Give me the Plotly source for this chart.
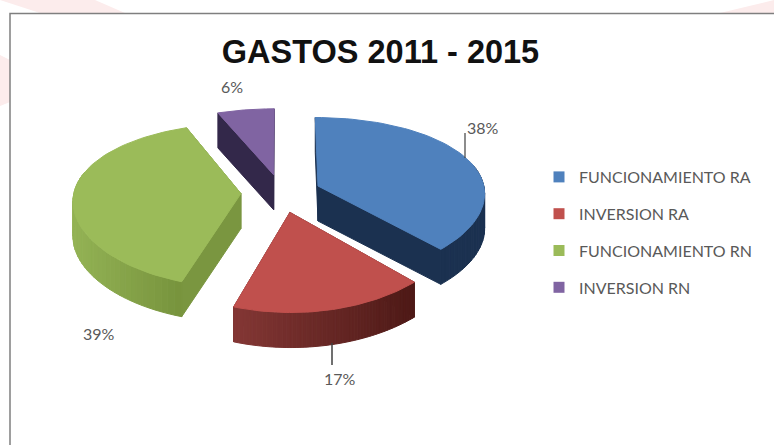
import numpy as np
import plotly.graph_objects as go

CATEGORIES = ["FUNCIONAMIENTO RA", "INVERSION RA", "FUNCIONAMIENTO RN", "INVERSION RN"]
VALUES = [38, 17, 39, 6]
TOP_COLORS = ["#4f81bd", "#c0504d", "#9bbb59", "#8064a2"]
RADIAL_COLORS = ["#1b3150", "#5a1f1d", "#7a9640", "#33284a"]
ARC_START = ["#1b3150", "#4e1a17", "#76923c", "#33284a"]
ARC_END = ["#1b3150", "#843735", "#94b355", "#33284a"]
TITLE = "GASTOS 2011 - 2015"

W, H = 774, 445
CX, CY, RX = 281, 193, 167
A, K, KX = 80, 0.141, 0.08
EXPLODE = 0.24
DEPTH = 35
LABEL = "#595959"


def project(u, v, dz=0.0):
    return CX + RX * u / (1 + KX * v), CY - A * v / (1 + K * v) + dz


def hex2rgb(c):
    return np.array([int(c[i:i + 2], 16) for i in (1, 3, 5)], float)


def mix(c1, c2, t):
    r = hex2rgb(c1) * (1 - t) + hex2rgb(c2) * t
    return "rgb(%d,%d,%d)" % tuple(r)


def poly(xs, ys, color):
    return go.Scatter(x=list(xs), y=list(ys), mode="lines", fill="toself", fillcolor=color,
                      line=dict(color=color, width=1), hoverinfo="skip", showlegend=False)


total = sum(VALUES)
cum = np.cumsum([0] + VALUES) / total * 2 * np.pi
geom = []
for i in range(len(VALUES)):
    t0, t1 = cum[i], cum[i + 1]
    mid = (t0 + t1) / 2
    ou, ov = EXPLODE * np.sin(mid), EXPLODE * np.cos(mid)
    th = np.linspace(t0, t1, 60)
    geom.append((th, ou, ov))

traces = []
for i in [3, 2, 0, 1]:
    th, ou, ov = geom[i]
    us = ou + np.sin(th)
    vs = ov + np.cos(th)
    ax, ay = project(ou, ov)
    for k in (0, -1):
        ex, ey = project(us[k], vs[k])
        traces.append(poly([ax, ex, ex, ax, ax], [ay, ey, ey + DEPTH, ay + DEPTH, ay], RADIAL_COLORS[i]))
    X, Y = project(us, vs)
    xmin, xmax = X.min(), X.max()
    for j in range(len(th) - 1):
        e = j + 1
        if np.cos(th[j]) > 0.25 and np.cos(th[e]) > 0.25:
            continue
        t = ((X[j] + X[e]) / 2 - xmin) / max(xmax - xmin, 1)
        if i in (1, 2):
            t = 1 - t
        c = mix(ARC_START[i], ARC_END[i], t)
        xs = [X[j], X[e], X[e], X[j], X[j]]
        ys = [Y[j], Y[e], Y[e] + DEPTH, Y[j] + DEPTH, Y[j]]
        traces.append(poly(xs, ys, c))
    traces.append(poly([ax] + list(X) + [ax], [ay] + list(Y) + [ay], TOP_COLORS[i]))

for name, color in zip(CATEGORIES, TOP_COLORS):
    traces.append(go.Scatter(x=[-50], y=[-50], mode="markers", name=name, legendgroup=name,
                             marker=dict(symbol="square", size=11, color=color), hoverinfo="skip"))

fig = go.Figure(traces)

pink = "#fcecec"
shapes = [
    dict(type="path", path="M0,0 L95,0 L125,13 L40,13 Z", fillcolor=pink, line_width=0, layer="below"),
    dict(type="path", path="M0,55 L10,60 L10,102 L0,106 Z", fillcolor=pink, line_width=0, layer="below"),
    dict(type="path", path="M720,13 L774,0 L774,13 Z", fillcolor=pink, line_width=0, layer="below"),
    dict(type="rect", x0=10, y0=13.5, x1=800, y1=470, fillcolor="white",
         line=dict(color="#7f7f7f", width=1.5), layer="below"),
    dict(type="line", x0=465, y0=158, x1=465, y1=133, line=dict(color="#404040", width=1.2)),
    dict(type="line", x0=332, y0=343, x1=332, y1=365, line=dict(color="#404040", width=1.5)),
]

label_pos = [(483, 127), (340, 378), (99, 333), (232, 86)]
annotations = [
    dict(x=x, y=y, text=f"{v}%", showarrow=False, xanchor="center", yanchor="middle",
         font=dict(family="Lato", size=16, color=LABEL))
    for (x, y), v in zip(label_pos, VALUES)
]

fig.update_layout(
    width=W, height=H, margin=dict(l=0, r=0, t=0, b=0),
    paper_bgcolor="white", plot_bgcolor="rgba(0,0,0,0)",
    xaxis=dict(range=[0, W], visible=False, fixedrange=True),
    yaxis=dict(range=[H, 0], visible=False, fixedrange=True),
    title=dict(text=f"<b>{TITLE}</b>", x=380.5 / W, xanchor="center", y=1 - 52 / H, yanchor="middle",
               font=dict(family="Liberation Sans", size=32.5, color="#111111")),
    legend=dict(x=539 / W, y=1 - 160 / H, xanchor="left", yanchor="top", bgcolor="rgba(0,0,0,0)",
                tracegroupgap=13, font=dict(family="Lato", size=16, color=LABEL), itemwidth=30),
    shapes=shapes, annotations=annotations, showlegend=True,
)
fig.write_html("out.html", config={"displayModeBar": False},
               post_script="document.body.style.margin='0';document.body.style.overflow='hidden';")
